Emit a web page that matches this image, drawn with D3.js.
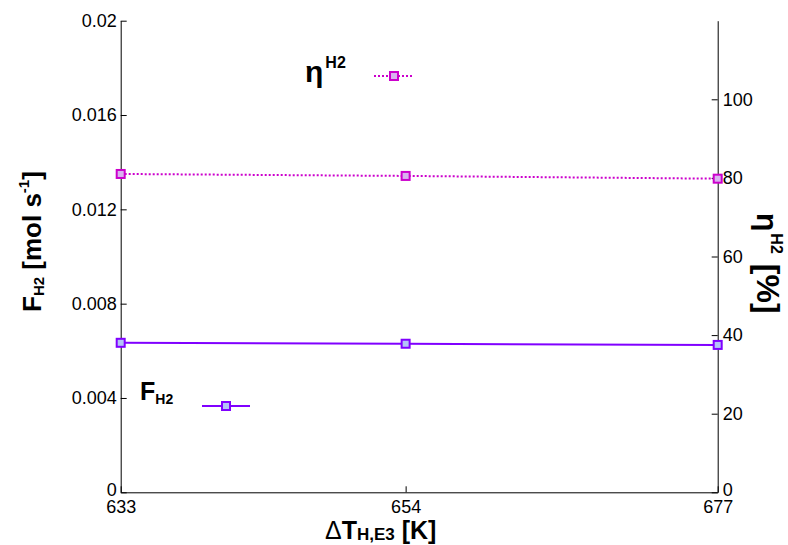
<!DOCTYPE html>
<html>
<head>
<meta charset="utf-8">
<script src="https://cdn.jsdelivr.net/npm/d3@7/dist/d3.min.js"></script>
<style>
  html, body { margin: 0; padding: 0; background: #fff; }
  svg { display: block; }
  text { font-family: "Liberation Sans", Arial, sans-serif; fill: #000; }
</style>
</head>
<body>
<svg id="chart" width="788" height="545"></svg>
<script>
// Temperature levels (x) and the two measured series
const temps = [633, 654, 677];
const flowH2 = [0.00634, 0.00630, 0.00625];   // F_H2 [mol s^-1], left axis
const effH2 = [81.0, 80.5, 79.8];             // eta^H2 [%], right axis

const leftTicks = [0, 0.004, 0.008, 0.012, 0.016, 0.02];
const rightTicks = [0, 20, 40, 60, 80, 100];
const leftDomain = [0, 0.02];
const rightDomain = [0, 120];

const plot = { left: 120.7, right: 717.7, top: 20.7, bottom: 492.3 };

const svg = d3.select("#chart");

const x = d3.scaleLinear().domain([temps[0], temps[temps.length - 1]]).range([plot.left, plot.right]);
const yL = d3.scaleLinear().domain(leftDomain).range([plot.bottom, plot.top]);
const yR = d3.scaleLinear().domain(rightDomain).range([plot.bottom, plot.top]);

const purple = "#8000ff", purpleFill = "#b3c3f7";
const magenta = "#cc00cc", magentaFill = "#d9b3f0";

function styleAxis(g, size) {
  g.selectAll("path.domain").attr("stroke", "#000").attr("stroke-width", 1);
  g.selectAll(".tick line").attr("stroke", "#000").attr("stroke-width", 1);
  g.selectAll(".tick text").attr("font-size", size).attr("font-family", "Liberation Sans, Arial, sans-serif").attr("fill", "#000");
}

// Left axis
svg.append("g")
  .attr("transform", `translate(${plot.left},0)`)
  .call(d3.axisLeft(yL).tickValues(leftTicks).tickSizeInner(-6).tickSizeOuter(0).tickPadding(4)
    .tickFormat(d => d === 0 ? "0" : String(d)))
  .call(g => styleAxis(g, 18))
  .call(g => g.selectAll(".tick text").filter(d => d === 0).attr("y", -3));

// Right axis
svg.append("g")
  .attr("transform", `translate(${plot.right},0)`)
  .call(d3.axisRight(yR).tickValues(rightTicks).tickSizeInner(-6).tickSizeOuter(0).tickPadding(5)
    .tickFormat(d3.format("d")))
  .call(g => styleAxis(g, 18))
  .call(g => g.selectAll(".tick text").filter(d => d === 0).attr("y", -3));

// Bottom axis
svg.append("g")
  .attr("transform", `translate(0,${plot.bottom})`)
  .call(d3.axisBottom(x).tickValues(temps).tickSizeInner(-6).tickSizeOuter(0).tickPadding(8)
    .tickFormat(d3.format("d")))
  .call(g => styleAxis(g, 18));

// Efficiency series (dotted, right axis)
svg.append("path")
  .datum(temps.map((t, i) => [t, effH2[i]]))
  .attr("fill", "none").attr("stroke", magenta).attr("stroke-width", 2)
  .attr("stroke-dasharray", "2,2")
  .attr("d", d3.line().x(d => x(d[0])).y(d => yR(d[1])));

// Flow series (solid, left axis)
svg.append("path")
  .datum(temps.map((t, i) => [t, flowH2[i]]))
  .attr("fill", "none").attr("stroke", purple).attr("stroke-width", 2)
  .attr("d", d3.line().x(d => x(d[0])).y(d => yL(d[1])));

function marker(g, cx, cy, stroke, fill) {
  g.append("rect")
    .attr("x", cx - 4).attr("y", cy - 4).attr("width", 8).attr("height", 8)
    .attr("fill", fill).attr("stroke", stroke).attr("stroke-width", 2);
}

const marks = svg.append("g");
temps.forEach((t, i) => marker(marks, x(t), yR(effH2[i]), magenta, magentaFill));
temps.forEach((t, i) => marker(marks, x(t), yL(flowH2[i]), purple, purpleFill));

// Legend entries
const leg = svg.append("g");
leg.append("line").attr("x1", 374).attr("x2", 412).attr("y1", 76).attr("y2", 76)
  .attr("stroke", magenta).attr("stroke-width", 2).attr("stroke-dasharray", "2,2");
marker(leg, 394, 76, magenta, magentaFill);
const etaLeg = leg.append("text").attr("x", 305).attr("y", 82).attr("font-weight", "bold");
etaLeg.append("tspan").attr("font-size", 30).text("η");
etaLeg.append("tspan").attr("font-size", 16).attr("dx", 2).attr("dy", -14).text("H2");

leg.append("line").attr("x1", 202).attr("x2", 250).attr("y1", 406).attr("y2", 406)
  .attr("stroke", purple).attr("stroke-width", 2);
marker(leg, 226, 406, purple, purpleFill);
const fLeg = leg.append("text").attr("x", 140).attr("y", 400).attr("font-weight", "bold");
fLeg.append("tspan").attr("font-size", 25).text("F");
fLeg.append("tspan").attr("font-size", 14).attr("dy", 4).text("H2");

// Axis titles
const xt = svg.append("text").attr("x", 325).attr("y", 538.5).attr("font-size", 25);
xt.append("tspan").text("Δ");
xt.append("tspan").attr("font-weight", "bold").text("T");
xt.append("tspan").attr("font-weight", "bold").attr("font-size", 17).attr("dy", 1).text("H,E3");
xt.append("tspan").attr("font-weight", "bold").attr("dy", -1).text(" [K]");

const ylt = svg.append("text")
  .attr("transform", "translate(41,312) rotate(-90)")
  .attr("font-weight", "bold").attr("font-size", 26);
ylt.append("tspan").text("F");
ylt.append("tspan").attr("font-size", 15).attr("dy", 3).text("H2");
ylt.append("tspan").attr("dy", -3).text(" [mol s");
ylt.append("tspan").attr("font-size", 15).attr("dy", -12).text("-1");
ylt.append("tspan").attr("dy", 12).text("]");

const yrt = svg.append("text")
  .attr("transform", "translate(757,213) rotate(90)")
  .attr("font-weight", "bold").attr("font-size", 30);
yrt.append("tspan").text("η");
yrt.append("tspan").attr("font-size", 16).attr("dx", 2).attr("dy", -14).text("H2");
yrt.append("tspan").attr("font-size", 32).attr("dx", 10).attr("dy", 14).text("[%]");
</script>
</body>
</html>
